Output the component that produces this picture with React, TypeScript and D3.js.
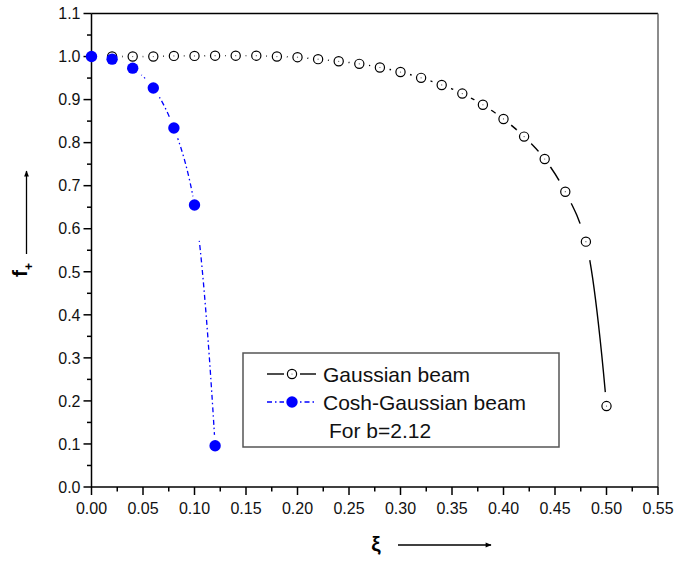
import React from 'react';
import * as d3 from 'd3';

// values
const gaussX = [0.02, 0.04, 0.06, 0.08, 0.10, 0.12, 0.14, 0.16, 0.18, 0.20, 0.22, 0.24, 0.26, 0.28, 0.30, 0.32, 0.34, 0.36, 0.38, 0.40, 0.42, 0.44, 0.46, 0.48, 0.50];
const gaussY = [1.0, 1.0, 1.0, 1.0015, 1.0015, 1.002, 1.002, 1.002, 1.0, 0.9985, 0.994, 0.989, 0.983, 0.9745, 0.964, 0.9505, 0.934, 0.914, 0.888, 0.855, 0.814, 0.762, 0.686, 0.570, 0.188];
const coshX = [0.0, 0.02, 0.04, 0.06, 0.08, 0.10, 0.12];
const coshY = [1.0, 0.994, 0.973, 0.927, 0.834, 0.655, 0.096];

const xTicks = [0, 0.05, 0.1, 0.15, 0.2, 0.25, 0.3, 0.35, 0.4, 0.45, 0.5, 0.55];
const yTicks = [0, 0.1, 0.2, 0.3, 0.4, 0.5, 0.6, 0.7, 0.8, 0.9, 1.0, 1.1];
const legendLabels = ['Gaussian beam', 'Cosh-Gaussian beam', 'For b=2.12'];

const W = 674;
const H = 566;
const margin = { top: 13.5, right: 16, bottom: 79, left: 91.5 };
const font = "'Liberation Sans', Arial, sans-serif";

// gap around the symbols where the connecting line is left out
const gapR = (i: number, n: number) => (i === n - 3 ? 13 : i === n - 2 ? 19 : i === n - 1 ? 14 : 10);

const App = () => {
  const x = d3.scaleLinear().domain([0, 0.55]).range([margin.left, W - margin.right]);
  const y = d3.scaleLinear().domain([0, 1.1]).range([H - margin.bottom, margin.top]);
  const x0 = x(0), x1 = x(0.55), y0 = y(0), y1 = y(1.1);

  const gPts: [number, number][] = gaussX.map((v, i) => [x(v), y(gaussY[i])]);
  const cPts: [number, number][] = coshX.map((v, i) => [x(v), y(coshY[i])]);
  const path = d3.line().curve(d3.curveCatmullRom.alpha(0.5));

  const xMinor = d3.range(0, 0.551, 0.025);
  const yMinor = d3.range(0, 1.101, 0.05);

  return (
    <svg width={W} height={H} style={{ position: 'absolute', left: 0, top: 0, background: '#fff' }} fontFamily={font}>
      <defs>
        <mask id="gapG" maskUnits="userSpaceOnUse" x={0} y={0} width={W} height={H}>
          <rect x={0} y={0} width={W} height={H} fill="#fff" />
          {gPts.map((p, i) => <circle key={i} cx={p[0]} cy={p[1]} r={gapR(i, gPts.length)} fill="#000" />)}
        </mask>
        <mask id="gapC" maskUnits="userSpaceOnUse" x={0} y={0} width={W} height={H}>
          <rect x={0} y={0} width={W} height={H} fill="#fff" />
          {cPts.map((p, i) => <circle key={i} cx={p[0]} cy={p[1]} r={i === 5 ? 9 : 11} fill="#000" />)}
          <circle cx={cPts[5][0] + 2} cy={cPts[5][1] + 18} r={18} fill="#000" />
        </mask>
        <marker id="arr" viewBox="0 0 10 10" refX={9} refY={5} markerWidth={8} markerHeight={6} markerUnits="userSpaceOnUse" orient="auto">
          <path d="M0,1 L10,5 L0,9 Z" fill="#000" />
        </marker>
      </defs>

      {/* frame */}
      <line x1={x0} x2={x1} y1={y1} y2={y1} stroke="#000" strokeWidth={1.5} />
      <line x1={x1} x2={x1} y1={y1} y2={y0} stroke="#666" strokeWidth={1.5} />

      {/* y axis */}
      <line x1={x0} x2={x0} y1={y1} y2={y0} stroke="#000" strokeWidth={1.5} />
      {yMinor.map((v, i) => (
        <line key={'ym' + i} x1={x0} x2={x0 - (i % 2 === 0 ? 8 : 4.5)} y1={y(v)} y2={y(v)} stroke="#000" strokeWidth={1.5} />
      ))}
      {yTicks.map((v) => (
        <text key={'yt' + v} x={x0 - 11} y={y(v)} dy="0.36em" textAnchor="end" fontSize={16} fill="#111">{d3.format('.1f')(v)}</text>
      ))}

      {/* x axis */}
      <line x1={x0} x2={x1} y1={y0} y2={y0} stroke="#000" strokeWidth={1.5} />
      {xMinor.map((v, i) => (
        <line key={'xm' + i} x1={x(v)} x2={x(v)} y1={y0} y2={y0 + (i % 2 === 0 ? 8 : 4.5)} stroke="#000" strokeWidth={1.5} />
      ))}
      {xTicks.map((v) => (
        <text key={'xt' + v} x={x(v)} y={y0 + 27} textAnchor="middle" fontSize={16} fill="#111">{d3.format('.2f')(v)}</text>
      ))}

      {/* axis titles */}
      <text transform="translate(27,277) rotate(-90)" fontSize={21} fontWeight="bold">
        f<tspan dy={6} fontSize={12}>+</tspan>
      </text>
      <line x1={26.5} x2={26.5} y1={254} y2={171} stroke="#000" strokeWidth={1.3} markerEnd="url(#arr)" />
      <text x={376} y={551} textAnchor="middle" fontSize={21} fontWeight="bold">ξ</text>
      <line x1={398} x2={491} y1={545} y2={545} stroke="#000" strokeWidth={1.3} markerEnd="url(#arr)" />

      {/* gaussian */}
      <path d={path(gPts) || ''} fill="none" stroke="#000" strokeWidth={1.4} mask="url(#gapG)" />
      {gPts.map((p, i) => (
        <g key={'g' + i}>
          <circle cx={p[0]} cy={p[1]} r={4.6} fill="#fff" stroke="#000" strokeWidth={1.2} />
          <circle cx={p[0]} cy={p[1]} r={0.6} fill="#555" />
        </g>
      ))}

      {/* cosh-gaussian */}
      <path d={path(cPts) || ''} fill="none" stroke="#0000ff" strokeWidth={1.3} strokeDasharray="5,3,1.5,3" mask="url(#gapC)" />
      {cPts.map((p, i) => (
        <circle key={'c' + i} cx={p[0]} cy={p[1]} r={5.7} fill="#0000ff" />
      ))}

      {/* legend */}
      <rect x={243} y={353} width={316} height={94} fill="#fff" stroke="#555" strokeWidth={1.5} />
      <line x1={267} x2={284} y1={374} y2={374} stroke="#000" strokeWidth={1.4} />
      <line x1={300} x2={316} y1={374} y2={374} stroke="#000" strokeWidth={1.4} />
      <circle cx={292} cy={374} r={4.6} fill="#fff" stroke="#000" strokeWidth={1.2} />
      <circle cx={292} cy={374} r={0.6} fill="#555" />
      <text x={323} y={382} fontSize={21} fill="#111">{legendLabels[0]}</text>
      <line x1={267} x2={284} y1={402} y2={402} stroke="#0000ff" strokeWidth={1.3} strokeDasharray="5,3,1.5,3" />
      <line x1={300} x2={316} y1={402} y2={402} stroke="#0000ff" strokeWidth={1.3} strokeDasharray="1.5,3,5,3" />
      <circle cx={292} cy={402} r={5.7} fill="#0000ff" />
      <text x={323} y={410} fontSize={21} fill="#111">{legendLabels[1]}</text>
      <text x={329} y={438} fontSize={21} fill="#111">{legendLabels[2]}</text>
    </svg>
  );
};

export default App;
